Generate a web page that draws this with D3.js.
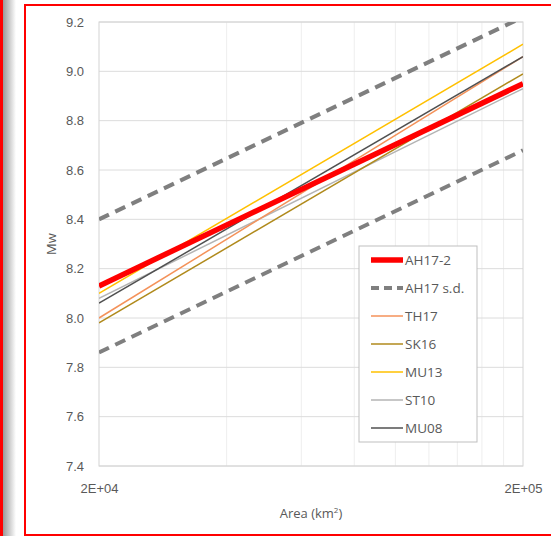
<!DOCTYPE html>
<html>
<head>
<meta charset="utf-8">
<script src="https://cdn.jsdelivr.net/npm/d3@7"></script>
<style>
  body { margin: 0; background: #fff; }
  svg { display: block; font-family: 'Open Sans', 'Liberation Sans', sans-serif; }
</style>
</head>
<body>
<svg id="viz" width="551" height="536"></svg>
<script>
// Area range (km2), x is log
const areaEnds = [2e4, 2e5];
const yTicks = [7.4, 7.6, 7.8, 8.0, 8.2, 8.4, 8.6, 8.8, 9.0, 9.2];
const xTicks = [2e4, 2e5];
const xGrid = [4e4, 6e4, 8e4, 1e5, 1.2e5, 1.4e5, 1.6e5, 1.8e5];

// Mw at each end of the area range
const seriesNames = ['AH17-2', 'AH17 s.d.', 'TH17', 'SK16', 'MU13', 'ST10', 'MU08'];
const ah17 = [8.13, 8.95];
const ah17Upper = [8.40, 9.22];
const ah17Lower = [7.86, 8.68];
const th17 = [8.00, 9.06];
const sk16 = [7.98, 8.99];
const mu13 = [8.10, 9.11];
const st10 = [8.08, 8.93];
const mu08 = [8.06, 9.06];

const styles = {
  'AH17-2': { color: '#ff0000', w: 5.5, dash: null },
  'AH17 s.d.': { color: '#7f7f7f', w: 4, dash: '11,7' },
  'TH17': { color: '#f4925a', w: 1.5, dash: null },
  'SK16': { color: '#b08a1c', w: 1.5, dash: null },
  'MU13': { color: '#ffc000', w: 1.5, dash: null },
  'ST10': { color: '#b4b4b4', w: 1.5, dash: null },
  'MU08': { color: '#505050', w: 1.5, dash: null },
};

const margin = { left: 99, top: 22, right: 28, bottom: 70 };
const W = 551, H = 536;
const width = W - margin.left - margin.right;
const height = H - margin.top - margin.bottom;

const svg = d3.select('#viz');

// page frame bits (neighbouring figure + red outline)
const grad = svg.append('defs').append('linearGradient').attr('id', 'shadow');
grad.append('stop').attr('offset', '0%').attr('stop-color', '#9a9a9a');
grad.append('stop').attr('offset', '100%').attr('stop-color', '#ffffff');
svg.append('rect').attr('x', 3).attr('y', 0).attr('width', 13).attr('height', H).attr('fill', 'url(#shadow)');
svg.append('rect').attr('x', 0).attr('y', 0).attr('width', 3).attr('height', H).attr('fill', '#ff0000');
svg.append('rect')
  .attr('x', 25).attr('y', 5).attr('width', 540).attr('height', 530)
  .attr('fill', 'none').attr('stroke', '#ff0000').attr('stroke-width', 2);

const x = d3.scaleLog().domain(areaEnds).range([0, width]);
const y = d3.scaleLinear().domain([7.4, 9.2]).range([height, 0]);

const g = svg.append('g').attr('transform', 'translate(' + margin.left + ',' + margin.top + ')');

// gridlines
g.append('g').selectAll('line').data(xGrid).join('line')
  .attr('x1', d => x(d)).attr('x2', d => x(d))
  .attr('y1', 0).attr('y2', height)
  .attr('stroke', '#eeeeee').attr('stroke-width', 1);
g.append('g').selectAll('line').data(yTicks).join('line')
  .attr('x1', 0).attr('x2', width)
  .attr('y1', d => y(d)).attr('y2', d => y(d))
  .attr('stroke', '#dcdcdc').attr('stroke-width', 1);
g.append('rect').attr('x', 0).attr('y', 0).attr('width', width).attr('height', height)
  .attr('fill', 'none').attr('stroke', '#d4d4d4').attr('stroke-width', 1);

// axes
const yAxis = g.append('g').call(d3.axisLeft(y).tickValues(yTicks).tickFormat(d3.format('.1f')).tickSize(0).tickPadding(15));
yAxis.select('.domain').remove();
yAxis.selectAll('text').attr('fill', '#595959').style('font-size', '13px');

const xAxis = g.append('g').attr('transform', 'translate(0,' + height + ')')
  .call(d3.axisBottom(x).tickValues(xTicks).tickFormat(d => d3.format('.0e')(d).replace('e+', 'E+0').toUpperCase()).tickSize(0).tickPadding(18));
xAxis.select('.domain').remove();
xAxis.selectAll('text').attr('fill', '#595959').style('font-size', '13px');

// axis titles
svg.append('text')
  .attr('transform', 'translate(56,' + (margin.top + height / 2) + ') rotate(-90)')
  .attr('text-anchor', 'middle').attr('fill', '#595959').style('font-size', '13px')
  .text('Mw');
const xt = svg.append('text')
  .attr('x', margin.left + width / 2).attr('y', 518)
  .attr('text-anchor', 'middle').attr('fill', '#595959').style('font-size', '13px');
xt.append('tspan').text('Area (km');
xt.append('tspan').attr('dy', -5).style('font-size', '8px').text('2');
xt.append('tspan').attr('dy', 5).text(')');

// series lines
const lineData = [
  { name: 'AH17 s.d.', v: ah17Upper },
  { name: 'AH17 s.d.', v: ah17Lower },
  { name: 'ST10', v: st10 },
  { name: 'SK16', v: sk16 },
  { name: 'TH17', v: th17 },
  { name: 'MU13', v: mu13 },
  { name: 'MU08', v: mu08 },
  { name: 'AH17-2', v: ah17 },
];

g.append('clipPath').attr('id', 'clip').append('rect')
  .attr('x', 0).attr('y', 0).attr('width', width).attr('height', height);

const line = d3.line().x(d => x(d[0])).y(d => y(d[1]));
g.append('g').attr('clip-path', 'url(#clip)')
  .selectAll('path').data(lineData).join('path')
  .attr('d', d => line(areaEnds.map((a, i) => [a, d.v[i]])))
  .attr('fill', 'none')
  .attr('stroke', d => styles[d.name].color)
  .attr('stroke-width', d => styles[d.name].w)
  .attr('stroke-dasharray', d => styles[d.name].dash);

// legend
const lg = svg.append('g').attr('transform', 'translate(359,246)');
lg.append('rect').attr('width', 118).attr('height', 196)
  .attr('fill', '#fff').attr('stroke', '#bfbfbf').attr('stroke-width', 1);
const items = lg.selectAll('g').data(seriesNames).join('g')
  .attr('transform', (d, i) => 'translate(0,' + (14 + i * 28) + ')');
items.append('line')
  .attr('x1', 12).attr('x2', 44).attr('y1', 0).attr('y2', 0)
  .attr('stroke', d => styles[d].color)
  .attr('stroke-width', d => styles[d].w)
  .attr('stroke-dasharray', d => styles[d].dash ? '8,5' : null);
items.append('text')
  .attr('x', 46).attr('y', 0).attr('dy', '0.35em')
  .attr('fill', '#595959').style('font-size', '13.5px')
  .text(d => d);
</script>
</body>
</html>
